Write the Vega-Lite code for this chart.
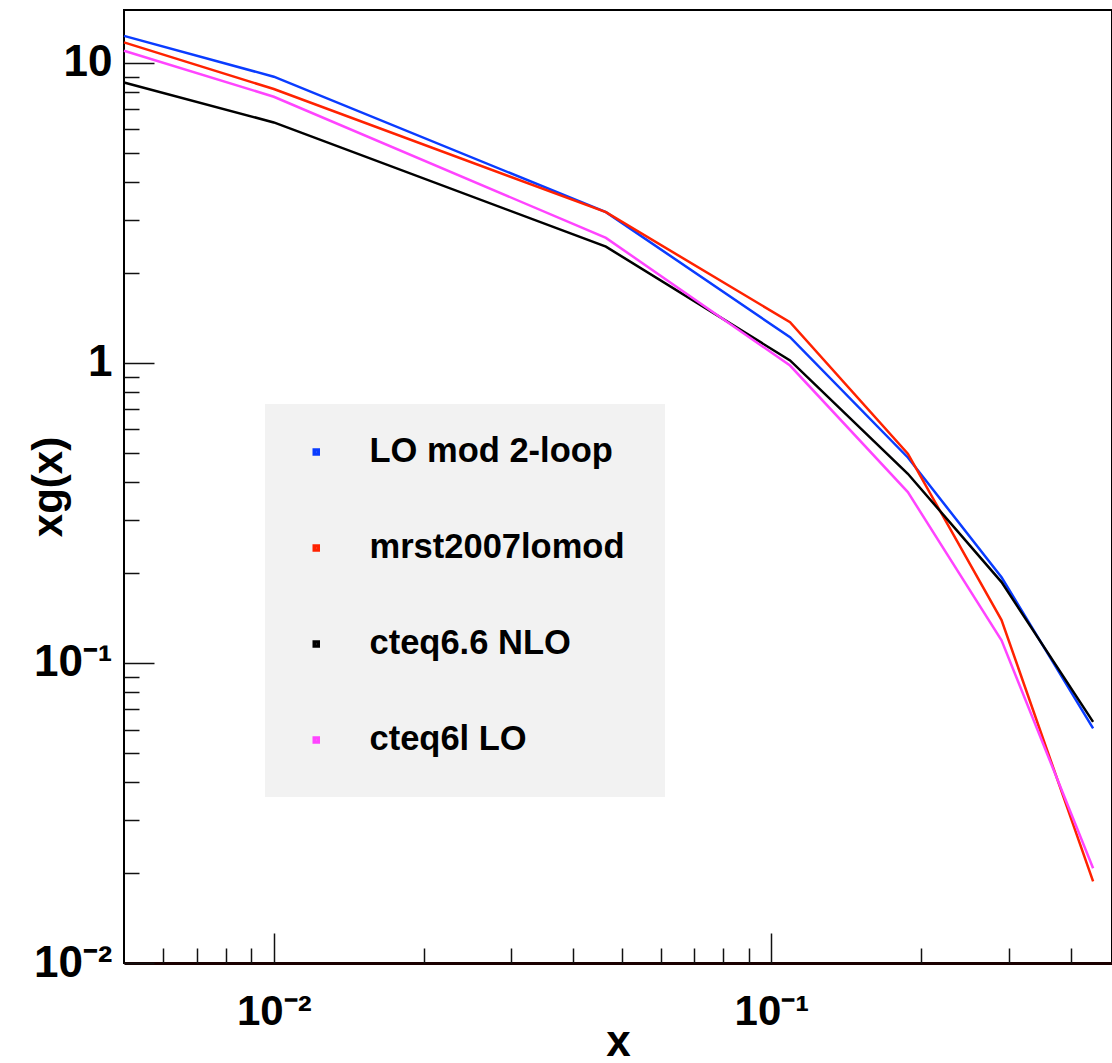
{
  "$schema": "https://vega.github.io/schema/vega-lite/v6.json",
  "width": 988,
  "height": 953,
  "autosize": {"type": "none"},
  "padding": {"left": 124, "top": 10, "right": 0, "bottom": 100},
  "background": "white",
  "config": {
    "view": {"stroke": "#000", "strokeWidth": 2},
    "axis": {"grid": false}
  },
  "data": {
    "values": [
      {"series": "LO mod 2-loop", "x": 0.005, "y": 12.3},
      {"series": "LO mod 2-loop", "x": 0.01, "y": 8.99},
      {"series": "LO mod 2-loop", "x": 0.0465, "y": 3.18},
      {"series": "LO mod 2-loop", "x": 0.109, "y": 1.218},
      {"series": "LO mod 2-loop", "x": 0.188, "y": 0.484},
      {"series": "LO mod 2-loop", "x": 0.29, "y": 0.193},
      {"series": "LO mod 2-loop", "x": 0.443, "y": 0.0605},
      {"series": "mrst2007lomod", "x": 0.005, "y": 11.7},
      {"series": "mrst2007lomod", "x": 0.01, "y": 8.18},
      {"series": "mrst2007lomod", "x": 0.0465, "y": 3.18},
      {"series": "mrst2007lomod", "x": 0.109, "y": 1.366},
      {"series": "mrst2007lomod", "x": 0.188, "y": 0.498},
      {"series": "mrst2007lomod", "x": 0.29, "y": 0.139},
      {"series": "mrst2007lomod", "x": 0.443, "y": 0.0187},
      {"series": "cteq6.6 NLO", "x": 0.005, "y": 8.6},
      {"series": "cteq6.6 NLO", "x": 0.01, "y": 6.33},
      {"series": "cteq6.6 NLO", "x": 0.0465, "y": 2.44},
      {"series": "cteq6.6 NLO", "x": 0.109, "y": 1.019},
      {"series": "cteq6.6 NLO", "x": 0.188, "y": 0.427},
      {"series": "cteq6.6 NLO", "x": 0.29, "y": 0.186},
      {"series": "cteq6.6 NLO", "x": 0.443, "y": 0.0636},
      {"series": "cteq6l LO", "x": 0.005, "y": 10.97},
      {"series": "cteq6l LO", "x": 0.01, "y": 7.71},
      {"series": "cteq6l LO", "x": 0.0465, "y": 2.61},
      {"series": "cteq6l LO", "x": 0.109, "y": 0.98},
      {"series": "cteq6l LO", "x": 0.188, "y": 0.371},
      {"series": "cteq6l LO", "x": 0.29, "y": 0.119},
      {"series": "cteq6l LO", "x": 0.443, "y": 0.0207}
    ]
  },
  "layer": [
    {
      "mark": {"type": "line", "strokeWidth": 2.5},
      "encoding": {
        "x": {
          "field": "x", "type": "quantitative",
          "scale": {"type": "log", "domain": [0.005, 0.4835], "nice": false, "zero": false},
          "axis": {
            "orient": "bottom", "values": [0.01, 0.1], "ticks": false, "tickSize": 0, "domain": true,
            "domainColor": "#1a0000", "domainWidth": 3,
            "labelExpr": "datum.value < 0.05 ? '10⁻²' : '10⁻¹'",
            "labelFont": "Liberation Sans Narrow, Liberation Sans", "labelFontWeight": "bold", "labelFontSize": 42,
            "labelColor": "#000", "labelPadding": 28,
            "title": "x", "titleFont": "Liberation Sans Narrow, Liberation Sans", "titleFontWeight": "bold",
            "titleFontSize": 44, "titleColor": "#000", "titlePadding": -12
          }
        },
        "y": {
          "field": "y", "type": "quantitative",
          "scale": {"type": "log", "domain": [0.01, 15], "nice": false, "zero": false},
          "axis": {
            "orient": "left", "values": [0.01, 0.1, 1, 10], "ticks": false, "tickSize": 0, "domain": false,
            "labelExpr": "datum.value < 0.05 ? '10⁻²' : datum.value < 0.5 ? '10⁻¹' : datum.value < 5 ? '1' : '10'",
            "labelFont": "Liberation Sans", "labelFontWeight": "bold", "labelFontSize": 44,
            "labelColor": "#000", "labelPadding": 12,
            "title": "xg(x)", "titleFont": "Liberation Sans", "titleFontWeight": "bold",
            "titleFontSize": 42, "titleColor": "#000", "titlePadding": -37
          }
        },
        "color": {
          "field": "series", "type": "nominal",
          "scale": {
            "domain": ["LO mod 2-loop", "mrst2007lomod", "cteq6.6 NLO", "cteq6l LO"],
            "range": ["#0a3cff", "#ff2200", "#000000", "#ff44ff"]
          },
          "legend": {
            "orient": "none", "legendX": 141, "legendY": 394, "title": null,
            "fillColor": "#f2f2f2", "strokeColor": null, "padding": 40,
            "symbolType": "square", "symbolSize": 16, "symbolStrokeWidth": 3.5, "symbolOffset": -6,
            "labelOffset": 36, "labelFont": "Liberation Sans", "labelFontWeight": "bold",
            "labelFontSize": 34.5, "labelColor": "#000", "rowPadding": 61, "clipHeight": 16, "labelLimit": 0
          }
        }
      }
    },
    {
      "mark": {"type": "point", "opacity": 0},
      "encoding": {
        "x": {
          "field": "x", "type": "quantitative",
          "scale": {"type": "log", "domain": [0.005, 0.4835], "nice": false, "zero": false},
          "axis": {"orient": "bottom", "values": [0.01, 0.1], "labels": false, "domain": false, "title": null,
                   "tickSize": -30, "tickColor": "#111", "tickWidth": 1.5}
        },
        "y": {
          "field": "y", "type": "quantitative",
          "scale": {"type": "log", "domain": [0.01, 15], "nice": false, "zero": false},
          "axis": {"orient": "left", "values": [0.01, 0.1, 1, 10], "labels": false, "domain": false, "title": null,
                   "tickSize": -30, "tickColor": "#111", "tickWidth": 1.5}
        }
      }
    },
    {
      "mark": {"type": "point", "opacity": 0},
      "encoding": {
        "x": {
          "field": "x", "type": "quantitative",
          "scale": {"type": "log", "domain": [0.005, 0.4835], "nice": false, "zero": false},
          "axis": {"orient": "bottom", "values": [0.006, 0.007, 0.008, 0.009, 0.02, 0.03, 0.04, 0.05, 0.06, 0.07, 0.08, 0.09, 0.2, 0.3, 0.4],
                   "labels": false, "domain": false, "title": null,
                   "tickSize": -15, "tickColor": "#111", "tickWidth": 1.5}
        },
        "y": {
          "field": "y", "type": "quantitative",
          "scale": {"type": "log", "domain": [0.01, 15], "nice": false, "zero": false},
          "axis": {"orient": "left", "values": [0.02, 0.03, 0.04, 0.05, 0.06, 0.07, 0.08, 0.09, 0.2, 0.3, 0.4, 0.5, 0.6, 0.7, 0.8, 0.9, 2, 3, 4, 5, 6, 7, 8, 9],
                   "labels": false, "domain": false, "title": null,
                   "tickSize": -15, "tickColor": "#111", "tickWidth": 1.5}
        }
      }
    }
  ],
  "resolve": {"axis": {"x": "independent", "y": "independent"}}
}
